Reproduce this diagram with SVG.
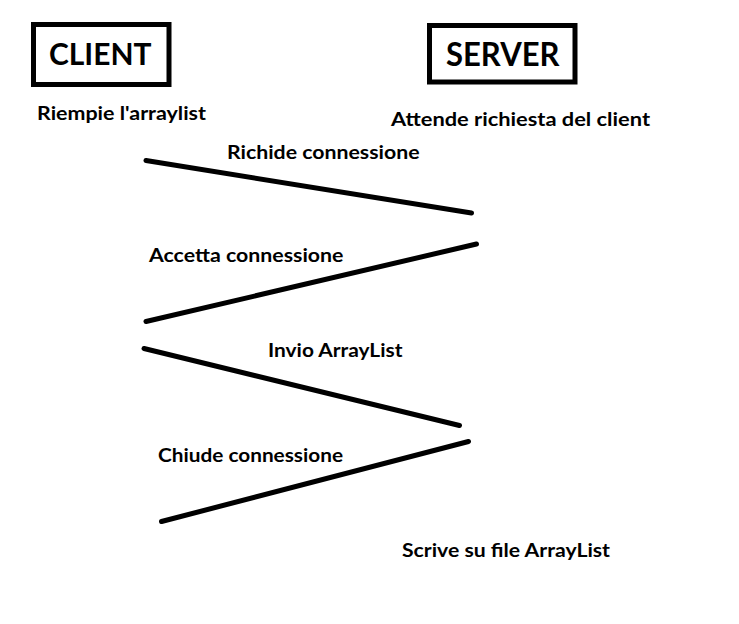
<svg xmlns="http://www.w3.org/2000/svg" width="739" height="624" viewBox="0 0 739 624">
<style>
.box{fill:none;stroke:#000;stroke-width:5}
.t{font-family:Lato,"Open Sans","Liberation Sans",sans-serif;font-weight:bold;fill:#000}
.lbl{font-size:19.5px}
.ttl{font-size:31px}
.ln{stroke:#000;stroke-width:5;stroke-linecap:round;fill:none}
</style>
<rect width="739" height="624" fill="#fff"/>
<g id="client">
<rect class="box" x="33.5" y="24.5" width="135.5" height="60"/>
<text class="t ttl" x="49" y="64.5" textLength="102.5" lengthAdjust="spacingAndGlyphs">CLIENT</text>
<text class="t lbl" x="37" y="120" textLength="169" lengthAdjust="spacingAndGlyphs">Riempie l'arraylist</text>
</g>
<g id="server">
<rect class="box" x="429.5" y="25.5" width="145.5" height="56.5"/>
<text class="t ttl" x="446" y="65.5" textLength="113.5" lengthAdjust="spacingAndGlyphs" style="font-size:32px">SERVER</text>
<text class="t lbl" x="391" y="125.5" textLength="259" lengthAdjust="spacingAndGlyphs">Attende richiesta del client</text>
<text class="t lbl" x="402" y="557" textLength="208" lengthAdjust="spacingAndGlyphs">Scrive su file ArrayList</text>
</g>
<g id="connectors">
<line class="ln" x1="146" y1="160.5" x2="471.5" y2="213"/>
<line class="ln" x1="476.5" y1="244" x2="146" y2="321.5"/>
<line class="ln" x1="144" y1="348.5" x2="459.5" y2="425.5"/>
<line class="ln" x1="468.5" y1="441.5" x2="161.5" y2="521.5"/>
</g>
<g id="labels">
<text class="t lbl" x="227" y="158.5" textLength="192.5" lengthAdjust="spacingAndGlyphs">Richide connessione</text>
<text class="t lbl" x="149" y="261.5" textLength="194.5" lengthAdjust="spacingAndGlyphs">Accetta connessione</text>
<text class="t lbl" x="268" y="357" textLength="134.5" lengthAdjust="spacingAndGlyphs">Invio ArrayList</text>
<text class="t lbl" x="158" y="461.5" textLength="185" lengthAdjust="spacingAndGlyphs">Chiude connessione</text>
</g>
</svg>
